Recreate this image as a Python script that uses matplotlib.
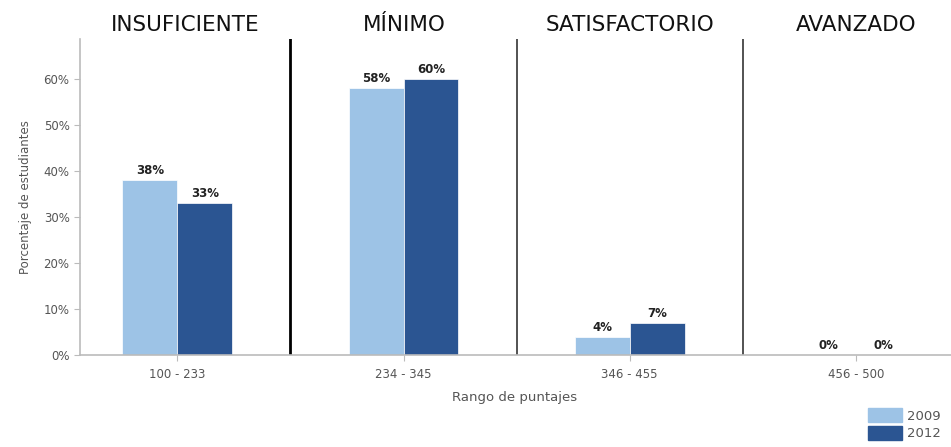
import matplotlib
matplotlib.use("Agg")
import matplotlib.pyplot as plt
import numpy as np
from matplotlib.patches import Patch

rangos = ["100 - 233", "234 - 345", "346 - 455", "456 - 500"]
niveles = ["INSUFICIENTE", "MÍNIMO", "SATISFACTORIO", "AVANZADO"]
anios = ["2009", "2012"]
valores_2009 = [38, 58, 4, 0]
valores_2012 = [33, 60, 7, 0]

color_2009 = "#9dc3e6"
color_2012 = "#2b5592"
gris = "#555555"

fig = plt.figure(figsize=(9.51, 4.47), dpi=100)
ax = fig.add_axes([80 / 951, 92 / 447, 871 / 951, 316 / 447])

x = np.arange(len(rangos))
w = 0.243
ax.bar(x - w / 2, valores_2009, w, color=color_2009, edgecolor="white", linewidth=0.5)
ax.bar(x + w / 2, valores_2012, w, color=color_2012, edgecolor="white", linewidth=0.5)

for i in range(len(rangos)):
    ax.text(x[i] - w / 2, valores_2009[i] + 0.6, f"{valores_2009[i]}%", ha="center", va="bottom",
            fontsize=8.5, fontweight="bold", color="#222222")
    ax.text(x[i] + w / 2, valores_2012[i] + 0.6, f"{valores_2012[i]}%", ha="center", va="bottom",
            fontsize=8.5, fontweight="bold", color="#222222")

# separadores entre niveles
ax.axvline(0.5, color="black", linewidth=2)
ax.axvline(1.5, color="#444444", linewidth=1.3)
ax.axvline(2.5, color="#444444", linewidth=1.3)

ax.set_xlim(-0.43, 3.42)
ax.set_ylim(0, 68.7)
ax.set_yticks(range(0, 70, 10))
ax.set_yticklabels([f"{v}%" for v in range(0, 70, 10)])
ax.set_xticks(x)
ax.set_xticklabels(rangos)
ax.tick_params(axis="both", colors="#bbbbbb", labelcolor=gris, labelsize=8.5, length=4)
ax.tick_params(axis="x", pad=5)

for s in ["top", "right"]:
    ax.spines[s].set_visible(False)
for s in ["left", "bottom"]:
    ax.spines[s].set_color("#bbbbbb")
    ax.spines[s].set_linewidth(1.2)

ax.set_ylabel("Porcentaje de estudiantes", fontsize=8.5, color=gris, labelpad=8)
fig.text(515 / 951, 1 - 397 / 447, "Rango de puntajes", ha="center", va="center",
         fontsize=9.5, color=gris)

centros = [185, 404, 630, 856]
for nombre, cx in zip(niveles, centros):
    fig.text(cx / 951, 1 - 25 / 447, nombre, ha="center", va="center",
             fontsize=15.5, fontweight="medium", color="#111111")

handles = [Patch(color=color_2009), Patch(color=color_2012)]
fig.legend(handles, anios, loc="lower right", bbox_to_anchor=(1.002, -0.012), frameon=False,
           fontsize=9.5, labelcolor=gris, handlelength=2.6, handleheight=1.3,
           handletextpad=0.4, labelspacing=0.25)

fig.savefig("out.png", dpi=100)
